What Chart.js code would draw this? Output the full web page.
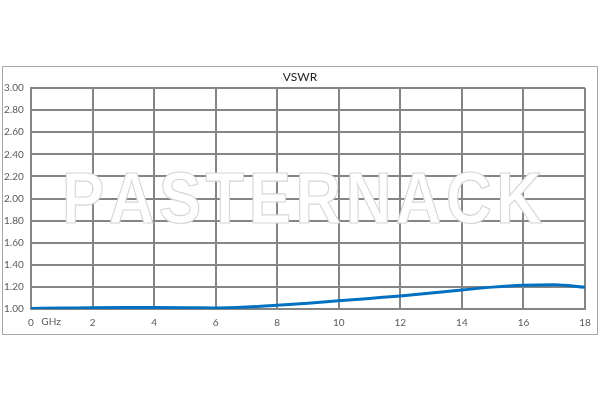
<!DOCTYPE html>
<html>
<head>
<meta charset="utf-8">
<script src="https://cdn.jsdelivr.net/npm/chart.js@4"></script>
<style>
  html, body { margin: 0; padding: 0; background: #fff; }
  #wrap { width: 600px; height: 400px; }
</style>
</head>
<body>
<div id="wrap"><canvas id="vswrChart" width="600" height="400"></canvas></div>
<script>
// Frequenz in GHz und gemessene VSWR-Werte
const freqGHz = [0, 1, 2, 3, 4, 5, 6, 7, 8, 9, 10, 11, 12, 13, 14, 15, 16, 17, 18];
const vswr = [1.005, 1.008, 1.012, 1.013, 1.013, 1.012, 1.010, 1.018, 1.034, 1.053, 1.074, 1.096, 1.118, 1.145, 1.172, 1.198, 1.215, 1.220, 1.197];
const xTicks = [0, 2, 4, 6, 8, 10, 12, 14, 16, 18];
const yTicks = [1.0, 1.2, 1.4, 1.6, 1.8, 2.0, 2.2, 2.4, 2.6, 2.8, 3.0];
const chartTitle = 'VSWR';
const xUnit = 'GHz';
const watermark = 'PASTERNACK';

const labelFont = { family: 'Lato, "Open Sans", sans-serif', size: 10 };
const gridColor = '#858585';

// Rahmen, Titel, Wasserzeichen und Einheit zeichnen
const decoPlugin = {
    id: 'deco',
    beforeDraw(chart) {
        const ctx = chart.ctx;
        ctx.save();
        ctx.strokeStyle = '#a8a8a8';
        ctx.lineWidth = 1;
        ctx.strokeRect(2.5, 66.5, 595, 268);
        ctx.fillStyle = '#222';
        ctx.font = '12px Lato, "Open Sans", sans-serif';
        ctx.textAlign = 'center';
        ctx.textBaseline = 'middle';
        ctx.fillText(chartTitle, 300, 77);
        ctx.restore();
    },
    beforeDatasetsDraw(chart) {
        // Wasserzeichen: weiss gefuellt, hellgrau umrandet, Breite ca. 480 px
        const ctx = chart.ctx;
        ctx.save();
        ctx.font = 'bold 72px "Liberation Sans", Arial, sans-serif';
        ctx.textAlign = 'left';
        ctx.textBaseline = 'alphabetic';
        ctx.fillStyle = '#ffffff';
        ctx.strokeStyle = '#d6d6d6';
        ctx.lineWidth = 1.2;
        const sx = 0.88;
        const targetWidth = 480;
        const letters = watermark.split('');
        const widths = letters.map(l => ctx.measureText(l).width);
        const sum = widths.reduce((a, b) => a + b, 0);
        const gap = (targetWidth / sx - sum) / (letters.length - 1);
        const total = sum + gap * (letters.length - 1);
        ctx.translate(302, 223);
        ctx.scale(sx, 1);
        let x = -total / 2;
        letters.forEach((l, i) => {
            ctx.fillText(l, x, 0);
            ctx.strokeText(l, x, 0);
            x += widths[i] + gap;
        });
        ctx.restore();
    },
    afterDraw(chart) {
        const ctx = chart.ctx;
        ctx.save();
        ctx.fillStyle = '#595959';
        ctx.font = '10px Lato, "Open Sans", sans-serif';
        ctx.textAlign = 'center';
        ctx.textBaseline = 'middle';
        ctx.fillText(xUnit, 51, 322);
        ctx.restore();
    }
};

const ctx = document.getElementById('vswrChart').getContext('2d');
new Chart(ctx, {
    type: 'line',
    data: {
        datasets: [{
            data: freqGHz.map((f, i) => ({ x: f, y: vswr[i] })),
            borderColor: '#0070c0',
            borderWidth: 3,
            pointRadius: 0,
            fill: false,
            tension: 0.4,
            cubicInterpolationMode: 'monotone'
        }]
    },
    options: {
        responsive: false,
        animation: false,
        layout: { padding: { left: 4, right: 15, top: 88, bottom: 0 } },
        plugins: {
            legend: { display: false },
            title: { display: false },
            tooltip: { enabled: false }
        },
        scales: {
            x: {
                type: 'linear',
                min: 0,
                max: 18,
                afterFit: scale => { scale.height = 91; },
                afterBuildTicks: scale => { scale.ticks = xTicks.map(v => ({ value: v })); },
                ticks: {
                    color: '#595959',
                    font: labelFont,
                    padding: 8,
                    maxRotation: 0,
                    autoSkip: false
                },
                grid: { color: gridColor, lineWidth: 2, drawTicks: false, tickLength: 0 },
                border: { display: true, color: gridColor, width: 2 }
            },
            y: {
                min: 1.0,
                max: 3.0,
                afterFit: scale => { scale.width = 27; },
                afterBuildTicks: scale => { scale.ticks = yTicks.map(v => ({ value: v })); },
                ticks: {
                    color: '#595959',
                    font: labelFont,
                    crossAlign: 'far',
                    padding: 0,
                    callback: v => v.toFixed(2)
                },
                grid: { color: gridColor, lineWidth: 2, drawTicks: false, tickLength: 0 },
                border: { display: true, color: gridColor, width: 2 }
            }
        }
    },
    plugins: [decoPlugin]
});
</script>
</body>
</html>
